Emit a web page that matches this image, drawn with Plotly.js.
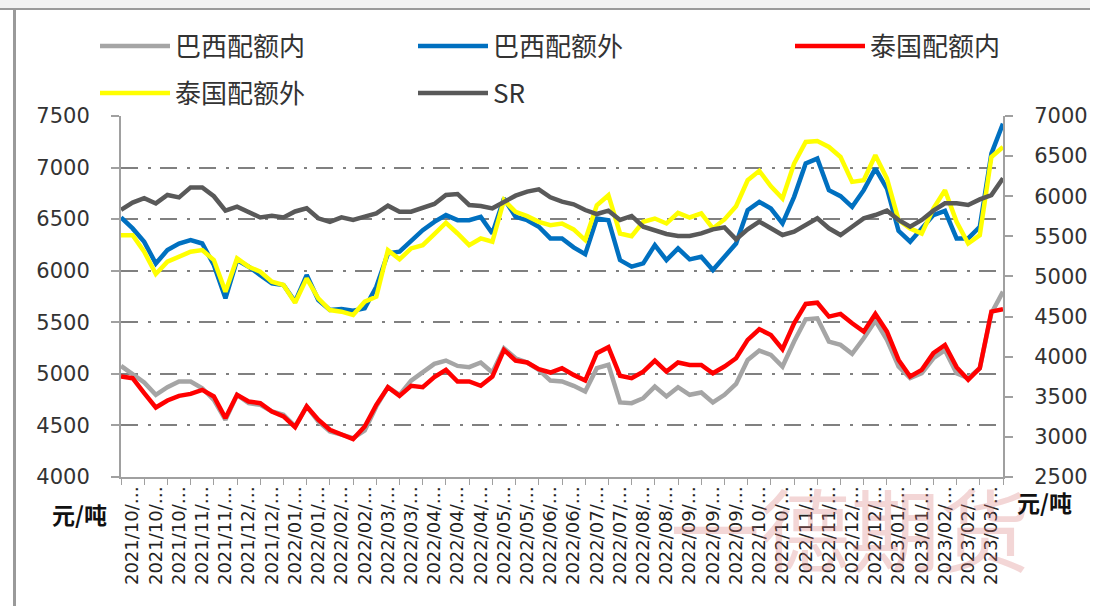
<!DOCTYPE html>
<html><head><meta charset="utf-8">
<script src="https://cdn.plot.ly/plotly-3.0.1.min.js"></script>
<style>
html,body{margin:0;padding:0;background:#fff;}
#wrap{position:relative;width:1102px;height:606px;overflow:hidden;}
#chart{width:1102px;height:606px;}
.ftop{position:absolute;left:0;top:0;width:1090px;height:8px;background:#f2f2f2;border-bottom:2px solid #9a9a9a;}
.fleft{position:absolute;left:13px;top:9px;width:3px;height:600px;background:#9a9a9a;}
</style></head><body>
<div id="wrap"><div id="chart"></div><div class="ftop"></div><div class="fleft"></div></div>
<script>
// x tick labels (category dates, truncated as in the source)
const xLabels = ['2021/10/…','2021/10/…','2021/10/…','2021/11/…','2021/11/…','2021/12/…','2021/12/…',
 '2022/01/…','2022/01/…','2022/02/…','2022/02/…','2022/03/…','2022/03/…','2022/04/…','2022/04/…','2022/04/…',
 '2022/05/…','2022/05/…','2022/06/…','2022/06/…','2022/07/…','2022/07/…','2022/08/…','2022/08/…',
 '2022/09/…','2022/09/…','2022/09/…','2022/10/…','2022/10/…','2022/11/…','2022/11/…','2022/12/…','2022/12/…',
 '2023/01/…','2023/01/…','2023/02/…','2023/02/…','2023/03/…'];

// series values (元/吨), sampled every half label interval
const brazilIn = [5077,5000,4916,4797,4871,4926,4926,4861,4748,4555,4797,4716,4700,4635,4603,4490,4684,4539,4442,
 4410,4377,4452,4684,4871,4797,4935,5013,5097,5129,5077,5065,5110,5013,5248,5151,5110,5039,4935,
 4926,4884,4829,5055,5087,4723,4716,4764,4877,4781,4871,4797,4819,4723,4797,4903,5135,5226,5184,
 5071,5313,5529,5539,5313,5281,5194,5345,5516,5329,5071,4958,5006,5151,5230,5006,4958,5055,5587,5797];
const brazilOut = [6516,6410,6280,6070,6200,6264,6297,6264,6055,5732,6103,6039,5958,5877,5861,5700,5958,5716,5619,
 5629,5613,5635,5845,6168,6184,6290,6393,6474,6539,6490,6490,6522,6361,6700,6522,6490,6426,6313,
 6313,6226,6161,6506,6490,6103,6039,6071,6248,6103,6216,6110,6135,6006,6135,6264,6587,6668,6603,
 6458,6716,7039,7087,6781,6723,6619,6781,6990,6797,6387,6281,6410,6539,6580,6313,6313,6426,7135,7426];
const thaiIn = [4974,4958,4813,4674,4742,4787,4806,4845,4781,4571,4797,4732,4716,4635,4587,4484,4684,4555,4458,
 4410,4368,4490,4700,4871,4787,4884,4871,4968,5039,4926,4926,4884,4974,5232,5129,5110,5045,5013,
 5055,4990,4935,5200,5258,4981,4958,5022,5129,5022,5110,5087,5087,5006,5071,5151,5329,5432,5377,
 5239,5490,5678,5690,5555,5581,5490,5409,5581,5409,5135,4974,5039,5200,5280,5065,4942,5055,5603,5626];
const thaiOut = [6345,6345,6184,5968,6087,6135,6184,6200,6103,5797,6119,6039,5990,5893,5861,5690,5926,5732,5619,
 5603,5571,5700,5748,6200,6110,6216,6248,6355,6465,6361,6248,6313,6281,6684,6571,6529,6474,6442,
 6458,6400,6297,6635,6732,6361,6335,6474,6506,6458,6561,6516,6555,6410,6497,6626,6877,6968,6819,
 6700,7039,7248,7258,7200,7103,6861,6877,7119,6893,6490,6410,6361,6603,6781,6474,6264,6345,7103,7200];
const sr = [5830,5920,5975,5910,6015,5985,6110,6110,6000,5820,5870,5795,5735,5755,5735,5810,5850,5725,5680,
 5737,5704,5745,5787,5882,5807,5807,5849,5903,6015,6028,5891,5878,5849,5932,6007,6057,6086,5986,
 5932,5899,5828,5778,5820,5704,5754,5620,5579,5529,5504,5504,5537,5587,5612,5462,5587,5683,5600,
 5517,5558,5641,5724,5600,5517,5620,5724,5766,5820,5704,5620,5704,5820,5911,5911,5891,5961,6015,6223];

const step = 0.5; // samples per label interval
const xs = brazilIn.map((_, i) => i * step);
const tickPos = xLabels.map((_, i) => i + 0.5);

const legFont = {family: '"Noto Sans CJK SC", sans-serif', size: 26, color: '#333'};
function mk(name, y, color, legend, axis) {
  return {type: 'scatter', mode: 'lines', name: name, x: xs, y: y, yaxis: axis,
    line: {color: color, width: 4.5}, legend: legend};
}
const data = [
  mk('巴西配额内', brazilIn, '#A5A5A5', 'legend', 'y'),
  mk('巴西配额外', brazilOut, '#0070C0', 'legend2', 'y'),
  mk('泰国配额内', thaiIn, '#FF0000', 'legend3', 'y'),
  mk('泰国配额外', thaiOut, '#FFFF00', 'legend4', 'y'),
  mk('SR', sr, '#595959', 'legend5', 'y2')
];
function leg(px, py) {
  return {x: px / 1102, y: 1 - py / 606, xref: 'container', yref: 'container', xanchor: 'left', yanchor: 'middle',
    bgcolor: 'rgba(0,0,0,0)', borderwidth: 0, font: legFont, itemwidth: 70};
}
const tickFont = {family: '"DejaVu Sans", sans-serif', size: 21, color: '#333'};
const unitFont = {family: '"Noto Sans CJK SC", sans-serif', size: 23, color: '#111'};
const layout = {
  width: 1102, height: 606,
  margin: {l: 121, r: 99, t: 116, b: 129, autoexpand: false},
  paper_bgcolor: '#fff', plot_bgcolor: '#fff',
  showlegend: true,
  legend: leg(95, 46), legend2: leg(413, 46), legend3: leg(790, 46), legend4: leg(95, 93), legend5: leg(413, 93),
  xaxis: {range: [0, 38], tickmode: 'array', tickvals: tickPos, ticktext: xLabels, tickangle: -90,
    ticks: '', showline: true, linecolor: '#a0a0a0', linewidth: 2, showgrid: false, zeroline: false, automargin: false,
    tickfont: {family: '"DejaVu Sans", sans-serif', size: 18, color: '#222'},
    minor: {tickmode: 'linear', tick0: 0, dtick: 1, ticks: 'outside', ticklen: 6, tickcolor: '#a0a0a0', tickwidth: 1, showgrid: false}},
  yaxis: {range: [4000, 7500], dtick: 500, tick0: 4000, showgrid: true, gridcolor: '#808080', gridwidth: 2,
    griddash: '17px,10px,3px,9px', zeroline: false, showline: true, linecolor: '#a0a0a0', linewidth: 2, automargin: false,
    ticks: 'outside', ticklen: 8, tickcolor: '#a0a0a0', tickwidth: 2, ticklabelstandoff: 17, tickfont: tickFont},
  yaxis2: {range: [2500, 7000], dtick: 500, tick0: 2500, overlaying: 'y', side: 'right', showgrid: false,
    zeroline: false, showline: true, linecolor: '#a0a0a0', linewidth: 2, automargin: false,
    ticks: 'outside', ticklen: 8, tickcolor: '#a0a0a0', tickwidth: 2, ticklabelstandoff: 17, tickfont: tickFont},
  annotations: [
    {text: '一德期货', xref: 'paper', yref: 'paper', x: 0.8265, y: -0.135, xanchor: 'center', yanchor: 'middle',
     showarrow: false, font: {family: '"Noto Sans CJK SC", sans-serif', size: 90, color: 'rgba(215,120,120,0.30)'}},
    {text: '<b>元/吨</b>', xref: 'paper', yref: 'paper', x: -0.0465, y: -0.1025, xanchor: 'center', yanchor: 'middle',
     showarrow: false, font: unitFont},
    {text: '<b>元/吨</b>', xref: 'paper', yref: 'paper', x: 1.0465, y: -0.07, xanchor: 'center', yanchor: 'middle',
     showarrow: false, font: unitFont}
  ]
};
Plotly.newPlot('chart', data, layout, {displayModeBar: false, staticPlot: true});
</script>
</body></html>
